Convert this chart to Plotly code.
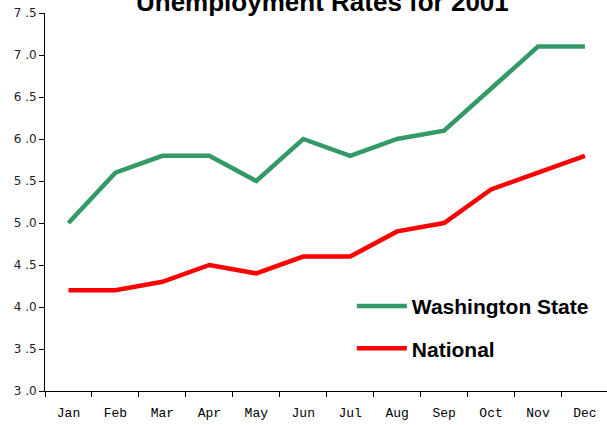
import plotly.graph_objects as go

months = ["Jan", "Feb", "Mar", "Apr", "May", "Jun", "Jul", "Aug", "Sep", "Oct", "Nov", "Dec"]
washington = [5.0, 5.6, 5.8, 5.8, 5.5, 6.0, 5.8, 6.0, 6.1, 6.6, 7.1, 7.1]
national = [4.2, 4.2, 4.3, 4.5, 4.4, 4.6, 4.6, 4.9, 5.0, 5.4, 5.6, 5.8]
y_ticks = [3.0, 3.5, 4.0, 4.5, 5.0, 5.5, 6.0, 6.5, 7.0, 7.5]
y_labels = ["3 .0", "3 .5", "4 .0", "4 .5", "5 .0", "5 .5", "6 .0", "6 .5", "7 .0", "7 .5"]

fig = go.Figure()
fig.add_trace(go.Scatter(x=months, y=washington, mode="lines", name="Washington State",
                         legendgroup="a", line=dict(color="#339966", width=4.5)))
fig.add_trace(go.Scatter(x=months, y=national, mode="lines", name="National",
                         legendgroup="b", line=dict(color="#FF0000", width=4.5)))

fig.update_layout(
    width=607, height=425,
    margin=dict(l=45, r=0, t=13, b=34, autoexpand=False),
    paper_bgcolor="white", plot_bgcolor="white",
    showlegend=True,
    legend=dict(x=0.546, y=0.278, xanchor="left", yanchor="top", itemwidth=50,
                font=dict(family="Liberation Sans, Arial", size=21, color="black", weight="bold"),
                bgcolor="rgba(0,0,0,0)", tracegroupgap=12, traceorder="grouped"),
    annotations=[dict(text="<b>Unemployment Rates for 2001</b>", xref="paper", yref="paper",
                      x=0.494, y=1.028, xanchor="center", yanchor="middle", showarrow=False,
                      font=dict(family="Liberation Sans, Arial", size=26, color="black"))],
)
fig.update_xaxes(type="category", range=[-0.5, 11.47], tickson="boundaries", automargin=False,
                 ticks="outside", ticklen=5, tickcolor="black", showline=True, ticklabelstandoff=9,
                 linecolor="black", linewidth=1, showgrid=False, zeroline=False,
                 tickfont=dict(family="Liberation Mono, Courier New", size=13, color="black"))
fig.update_yaxes(range=[3.0, 7.5], tickvals=y_ticks, ticktext=y_labels, automargin=False,
                 ticks="outside", ticklen=5, tickcolor="black", showline=True,
                 linecolor="black", linewidth=1, showgrid=False, zeroline=False,
                 tickfont=dict(family="DejaVu Sans, Verdana", size=12, color="#222222"))

fig.write_html("out.html", config={"displayModeBar": False},
               post_script="document.body.style.margin='0px';")
